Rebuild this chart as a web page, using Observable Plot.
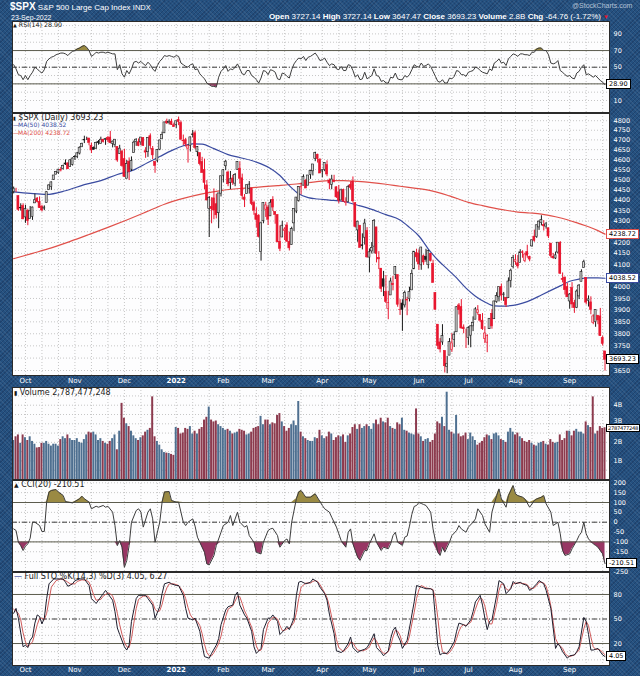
<!DOCTYPE html>
<html><head><meta charset="utf-8"><title>$SPX</title>
<script src="https://cdn.jsdelivr.net/npm/d3@7"></script>
<script src="https://cdn.jsdelivr.net/npm/@observablehq/plot@0.6"></script>
<style>
html,body{margin:0;padding:0;}
body{width:640px;height:676px;overflow:hidden;background-color:#24507f;
background-image:repeating-linear-gradient(45deg,rgba(255,255,255,0.07) 0 1px,transparent 1px 3px),repeating-linear-gradient(-45deg,rgba(0,0,30,0.18) 0 1px,transparent 1px 3px);}
#root{position:relative;width:640px;height:676px;overflow:hidden;}
.abs{position:absolute;white-space:nowrap;line-height:1;}
.sm{font-family:"DejaVu Sans",Verdana,sans-serif;color:#1a1a1a;}
.hd{font-family:"Liberation Sans",Arial,sans-serif;color:#fff;}
.box{position:absolute;left:606px;height:8px;line-height:8px;font:6.5px "DejaVu Sans",sans-serif;background:#fff;color:#000;padding:0 2px;border:1px solid #000;white-space:nowrap;}
.panel{position:absolute;left:12px;}
.panel svg{display:block;overflow:visible;}
</style></head>
<body><div id="root"></div>
<script>
// ---------- DATA ----------
const months = [
 ["2021-09",[24,27,28,29,30]],
 ["2021-10",[1,4,5,6,7,8,11,12,13,14,15,18,19,20,21,22,25,26,27,28,29]],
 ["2021-11",[1,2,3,4,5,8,9,10,11,12,15,16,17,18,19,22,23,24,26,29,30]],
 ["2021-12",[1,2,3,6,7,8,9,10,13,14,15,16,17,20,21,22,23,27,28,29,30,31]],
 ["2022-01",[3,4,5,6,7,10,11,12,13,14,18,19,20,21,24,25,26,27,28,31]],
 ["2022-02",[1,2,3,4,7,8,9,10,11,14,15,16,17,18,22,23,24,25,28]],
 ["2022-03",[1,2,3,4,7,8,9,10,11,14,15,16,17,18,21,22,23,24,25,28,29,30,31]],
 ["2022-04",[1,4,5,6,7,8,11,12,13,14,18,19,20,21,22,25,26,27,28,29]],
 ["2022-05",[2,3,4,5,6,9,10,11,12,13,16,17,18,19,20,23,24,25,26,27,31]],
 ["2022-06",[1,2,3,6,7,8,9,10,13,14,15,16,17,21,22,23,24,27,28,29,30]],
 ["2022-07",[1,5,6,7,8,11,12,13,14,15,18,19,20,21,22,25,26,27,28,29]],
 ["2022-08",[1,2,3,4,5,8,9,10,11,12,15,16,17,18,19,22,23,24,25,26,29,30,31]],
 ["2022-09",[1,2,6,7,8,9,12,13,14,15,16,19,20,21,22,23]]
];
const monthLabels = ["Oct","Nov","Dec","2022","Feb","Mar","Apr","May","Jun","Jul","Aug","Sep"];

const open = [4439,4443,4419,4363,4371,
4317,4348,4310,4320,4384,4407,4391,4368,4359,4386,4448,4463,4498,4524,4532,4547,4553,4580,4580,4562,4573,
4611,4613,4630,4662,4699,4702,4707,4670,4659,4655,4689,4679,4701,4700,4709,4712,4679,4675,4664,4628,4640,
4602,4504,4589,4549,4632,4690,4688,4687,4710,4642,4637,4719,4653,4587,4594,4650,4703,4734,4795,4788,4795,4776,
4778,4804,4787,4693,4698,4655,4670,4728,4734,4637,4632,4588,4547,4471,4357,4367,4408,4380,4337,4431,
4519,4566,4535,4482,4505,4480,4548,4553,4506,4412,4429,4455,4456,4385,4333,4325,4156,4299,4354,
4364,4322,4401,4343,4328,4203,4223,4253,4279,4203,4188,4289,4345,4396,4462,4470,4494,4470,4523,4541,4603,4624,4599,
4540,4547,4572,4495,4474,4495,4462,4437,4398,4449,4385,4390,4473,4489,4385,4256,4278,4187,4222,4253,
4131,4159,4181,4270,4129,4081,4034,3978,3904,3963,4013,4053,4052,3900,3928,3920,3943,3947,3985,4078,4151,
4149,4096,4137,4134,4097,4148,4102,3974,3838,3764,3764,3729,3665,3710,3734,3775,3806,3920,3913,3826,3785,
3782,3792,3831,3859,3888,3880,3855,3779,3763,3819,3884,3861,3935,3955,4000,3966,3953,3951,4027,4088,
4112,4105,4107,4155,4116,4156,4134,4182,4227,4225,4270,4290,4281,4274,4266,4195,4134,4127,4154,4198,4035,4041,4000,
3937,3995,3930,3910,3959,4023,4084,4040,3940,3933,3845,3849,3876,3873,3782,3727.14];
const high = [4463,4457,4419,4382,4382,
4375,4356,4369,4366,4429,4412,4415,4375,4372,4440,4475,4488,4520,4540,4551,4560,4572,4598,4584,4598,4608,
4620,4636,4664,4683,4719,4714,4708,4684,4664,4688,4697,4714,4701,4708,4718,4744,4694,4702,4664,4672,4647,
4652,4595,4608,4613,4694,4706,4705,4713,4711,4660,4712,4731,4666,4591,4651,4698,4740,4791,4808,4805,4808,4787,
4797,4819,4798,4725,4708,4673,4714,4749,4745,4666,4632,4611,4602,4495,4417,4411,4454,4428,4432,4517,
4550,4595,4542,4540,4521,4530,4588,4588,4527,4427,4473,4490,4456,4395,4363,4330,4295,4385,4389,
4375,4401,4416,4343,4328,4277,4299,4268,4292,4248,4271,4358,4412,4465,4481,4523,4501,4520,4546,4575,4637,4627,4604,
4548,4583,4593,4503,4521,4521,4464,4471,4453,4453,4411,4471,4489,4513,4386,4299,4278,4240,4308,4269,
4170,4200,4307,4270,4158,4082,4069,4050,3981,4039,4047,4090,4052,3945,3944,3982,3955,3999,4075,4158,4169,
4166,4177,4143,4169,4164,4150,4119,3974,3838,3780,3838,3729,3707,3780,3801,3808,3914,3928,3945,3837,3819,
3829,3832,3871,3910,3919,3880,3885,3829,3796,3864,3902,3938,3975,3999,4013,3976,3953,4040,4079,4141,
4144,4140,4167,4162,4151,4187,4137,4211,4257,4280,4301,4325,4302,4293,4266,4195,4150,4156,4200,4204,4062,4044,4016,
3971,4019,3942,3987,4011,4076,4119,4040,3961,3957,3880,3900,3876,3907,3790,3727.14];
const low = [4430,4437,4346,4347,4306,
4289,4278,4310,4303,4384,4386,4360,4343,4349,4386,4448,4447,4496,4524,4526,4538,4547,4570,4551,4562,4567,
4595,4604,4623,4662,4681,4697,4670,4630,4648,4651,4673,4679,4684,4672,4686,4680,4659,4660,4586,4626,4561,
4510,4504,4495,4540,4632,4667,4665,4670,4667,4606,4611,4651,4600,4531,4583,4645,4703,4734,4780,4778,4775,4766,
4759,4774,4699,4671,4663,4582,4638,4711,4650,4614,4568,4530,4450,4396,4223,4287,4306,4310,4264,4415,
4484,4544,4465,4451,4471,4465,4548,4477,4401,4364,4429,4429,4373,4327,4267,4221,4115,4287,4317,
4279,4322,4345,4285,4199,4158,4223,4209,4200,4161,4187,4251,4335,4390,4425,4469,4456,4469,4501,4518,4589,4582,4530,
4508,4539,4514,4450,4450,4484,4408,4382,4397,4392,4371,4390,4448,4385,4268,4201,4175,4166,4188,4128,
4063,4147,4148,4107,4077,3976,3958,3928,3859,3963,3983,4033,3912,3877,3810,3909,3876,3935,3985,4078,4110,
4074,4074,4096,4110,4080,4111,4017,3901,3735,3721,3752,3640,3637,3710,3723,3743,3806,3879,3820,3800,3739,
3752,3742,3809,3859,3878,3847,3814,3759,3722,3818,3819,3861,3929,3935,3939,3937,3911,3951,3996,4080,
4096,4080,4107,4128,4108,4128,4112,4178,4201,4219,4256,4277,4253,4262,4218,4129,4123,4122,4147,4057,4018,3965,3954,
3904,3907,3886,3906,3945,4023,4084,3922,3913,3880,3838,3827,3838,3789,3749,3647.47];
const close = [4455,4443,4353,4360,4308,
4357,4300,4346,4364,4399,4391,4361,4350,4364,4438,4471,4486,4520,4537,4549,4545,4567,4575,4551,4596,4605,
4613,4631,4660,4680,4697,4702,4685,4646,4649,4683,4683,4701,4689,4705,4698,4683,4691,4701,4595,4655,4567,
4513,4577,4538,4592,4686,4701,4668,4712,4669,4635,4710,4669,4621,4568,4649,4697,4726,4791,4786,4793,4778,4766,
4797,4794,4701,4696,4677,4670,4713,4726,4659,4663,4577,4533,4483,4398,4410,4357,4350,4327,4432,4516,
4546,4589,4477,4501,4484,4522,4587,4504,4419,4401,4472,4475,4381,4349,4305,4226,4289,4385,4374,
4306,4387,4364,4329,4201,4171,4278,4260,4204,4173,4262,4358,4412,4463,4461,4512,4456,4520,4543,4575,4632,4602,4530,
4546,4583,4525,4481,4500,4488,4413,4397,4447,4392,4391,4463,4459,4394,4272,4297,4175,4183,4288,4132,
4155,4175,4300,4147,4123,3991,4001,3935,3930,4024,4008,4088,3923,3901,3901,3974,3941,3979,4058,4158,4132,
4101,4177,4109,4121,4161,4116,4018,3901,3750,3735,3790,3667,3675,3765,3760,3796,3912,3900,3822,3819,3785,
3825,3831,3845,3903,3899,3855,3819,3801,3790,3863,3831,3937,3960,3999,3962,3967,3921,4024,4072,4130,
4119,4091,4155,4152,4145,4140,4122,4210,4208,4280,4297,4305,4275,4284,4228,4138,4128,4141,4199,4058,4031,3986,3955,
3967,3924,3908,3980,4006,4067,4110,3932,3946,3901,3873,3900,3856,3790,3758,3693.23];
// volume, billions of shares
const volumeB = [2.1,2.3,2.4,1.95,2.4,
2.25,2.1,2.3,2.05,1.9,1.7,1.72,1.95,1.95,2.05,1.9,1.8,1.9,1.9,1.8,2.15,2.3,2.2,2.4,2.2,2.1,
2.1,2.2,2.0,1.95,2.15,2.4,2.55,2.5,2.55,2.4,2.1,2.2,2.05,1.95,1.9,2.05,2.2,2.4,1.6,2.6,4.1,
3.3,3.0,2.85,2.6,2.35,2.2,2.1,2.25,2.35,2.55,2.65,2.75,4.45,2.3,2.05,1.85,1.6,1.45,1.42,1.4,1.35,1.3,
2.8,2.75,2.45,2.5,2.75,2.7,2.85,2.45,2.6,2.45,2.7,2.8,3.2,3.35,3.9,3.2,3.1,3.15,2.95,2.85,
2.75,2.65,2.7,2.6,2.45,2.5,2.55,2.7,2.65,2.6,2.4,2.45,2.55,2.75,2.8,2.85,3.4,2.95,3.2,
3.2,2.95,3.05,3.0,3.45,3.55,3.1,2.85,2.6,2.75,2.95,3.15,2.9,4.2,2.55,2.3,2.2,2.1,2.05,2.05,2.25,2.2,2.65,
2.35,2.2,2.3,2.55,2.45,2.1,2.25,2.35,2.3,2.4,2.0,2.35,2.45,2.8,2.95,2.7,2.95,2.75,2.85,2.95,
2.85,2.7,3.0,3.2,2.95,3.3,3.1,3.05,3.3,2.85,2.75,2.7,3.05,2.95,3.3,2.65,2.6,2.5,2.45,2.4,3.8,
2.45,2.3,2.05,2.15,2.2,2.0,2.1,2.45,3.1,3.0,3.35,2.85,4.7,2.65,2.55,2.45,3.45,2.45,2.3,2.35,2.5,
2.15,2.5,2.3,2.1,1.85,1.95,2.05,2.25,2.4,2.35,2.15,2.45,2.5,2.35,2.15,2.1,2.0,2.55,2.75,2.55,
2.4,2.5,2.3,2.2,2.05,2.0,2.1,1.95,1.85,1.8,1.95,2.0,2.05,1.9,1.85,2.15,2.0,1.95,2.0,2.4,2.1,2.2,2.6,
2.6,2.35,2.6,2.7,2.55,2.55,2.45,3.1,2.9,2.8,4.45,2.45,2.6,2.85,2.75,2.787477248];

const ma50Day = [0,7,14,22,30,37,44,51,57,62,67,72,76,80,85,91,96,101,105,109,113,117,121,125,129,134,140,146,152,158,164,168,172,176,180,184,188,192,196,200,204,208,212,216,220,224,228,232,236,240,244,248,251];
const ma50Value = [4440,4432,4427,4445,4475,4495,4525,4548,4585,4615,4645,4670,4680,4678,4655,4625,4610,4595,4578,4555,4520,4470,4430,4412,4405,4400,4393,4375,4355,4330,4305,4270,4230,4170,4120,4080,4040,3995,3960,3935,3918,3917,3920,3930,3945,3965,3985,4005,4025,4035,4040,4040,4038.52];
const ma200Day = [0,8,16,24,32,40,48,56,64,72,80,88,96,104,112,120,128,134,140,146,152,158,164,170,177,185,193,199,204,209,214,219,224,230,235,240,244,248,251];
const ma200Value = [4126,4150,4175,4205,4237,4270,4305,4342,4380,4408,4430,4446,4456,4463,4470,4478,4489,4495,4495,4491,4485,4477,4467,4458,4446,4420,4389,4373,4361,4351,4342,4338,4333,4320,4306,4288,4273,4255,4238.72];

const rsi = [53,48,41,40,35,40,35,40,44,50,48,45,43,47,57,60,62,63,65,66,67,67,66,64,67,69,70,72,73,75,76,74,70,63,65,68,67,68,68,67,68,67,66,66,
47,53,42,38,46,42,48,56,57,55,57,54,52,56,53,48,45,52,57,60,64,63,64,63,62,64,63,55,53,51,50,53,54,47,48,42,39,36,31,29,27,27,26,38,45,48,52,45,48,47,50,54,48,42,41,46,46,40,38,35,31,37,46,45,41,47,46,44,
36,35,43,42,39,37,47,54,58,61,60,63,58,62,63,65,67,63,58,
59,61,56,52,54,53,48,47,51,46,46,53,52,46,38,41,35,36,44,36,
38,40,48,40,39,33,34,31,31,38,37,43,36,35,35,40,38,41,47,53,51,
50,55,51,52,54,51,45,39,33,32,35,31,31,37,36,39,46,45,41,41,39,
44,45,46,50,49,46,44,43,42,48,46,55,57,60,55,56,52,60,63,66,
65,63,66,66,65,65,64,68,68,72,73,73,70,70,65,55,54,55,58,46,44,41,39,
40,37,36,43,45,50,53,41,42,40,38,40,37,34,32,28.9];

const cciDay = [0,1,2,3,4,5,6,7,8,9,11,12,13,14,15,16,18,19,21,22,23,25,26,28,29,30,32,33,35,36,38,39,40,42,43,44,45,46,47,48,49,50,52,53,54,55,57,58,59,60,62,63,64,66,67,69,70,72,73,74,76,77,78,79,81,82,83,85,86,88,89,91,92,93,95,96,98,99,100,102,103,105,106,108,109,110,112,113,115,116,117,118,120,121,122,124,126,128,130,131,132,134,135,137,138,139,141,142,143,144,146,147,149,150,151,153,154,156,157,159,160,161,162,163,165,166,167,168,169,170,171,172,173,174,175,177,178,180,181,182,183,185,186,188,189,190,192,193,195,196,197,199,200,202,203,205,206,207,209,210,212,213,214,216,217,219,221,222,224,225,226,228,229,231,232,233,234,236,237,239,240,241,242,243,244,246,247,248,250,251];
const cciValue = [-34,-42,-102,-119,-144,-122,-110,-81,0,0,-17,-47,-47,102,153,161,166,153,136,105,102,98,105,119,132,119,102,68,81,76,85,76,81,51,-17,-119,-93,-127,-229,-195,-119,0,59,68,51,-25,51,68,17,-102,0,102,153,156,110,102,102,0,-17,0,17,-20,-76,-102,-153,-212,-217,-170,-119,-51,-17,0,34,-17,51,0,-25,-17,-68,-102,-153,-161,-102,-42,-34,-31,-68,-127,-93,-85,-110,0,119,153,161,127,127,144,105,85,68,51,25,-25,-59,-93,-127,-51,-34,-110,-178,-194,-144,-144,-110,-59,-102,-144,-127,-135,-110,-68,-51,-102,-118,-76,-70,-20,40,80,85,100,95,90,85,51,-34,-152,-169,-127,-152,-101,-68,-42,-17,-34,-51,-25,0,17,68,34,-8,-51,51,135,169,118,76,135,186,144,135,127,118,76,110,118,127,135,93,51,-17,0,-59,-144,-169,-161,-135,-93,-68,-51,0,-59,-85,-110,-118,-127,-161,-210.51];

const kDay = [0,1,2,3,4,5,6,7,8,9,10,11,12,13,14,15,17,18,21,22,23,25,26,28,30,32,33,35,36,38,39,40,42,43,44,45,47,48,49,50,52,53,55,56,57,59,60,62,63,64,66,67,69,70,72,73,74,76,77,79,80,81,83,84,86,87,88,90,91,93,94,95,96,98,99,101,102,103,105,106,108,109,110,112,113,115,116,117,119,120,121,122,124,126,127,129,130,132,133,134,136,137,139,140,142,143,144,146,147,149,150,151,153,154,156,157,159,160,161,162,163,164,165,167,168,170,171,173,174,175,177,178,179,180,181,182,184,185,187,188,189,191,192,194,195,196,198,199,200,201,202,203,205,206,208,209,211,212,213,215,216,218,219,220,222,223,225,226,228,229,230,231,232,233,235,236,238,239,240,242,243,244,245,246,248,249,250,251];
const kValue = [57,63,51,33,16,18,15,24,28,45,55,53,44,51,75,93,99,99,99,95,90,93,97,99,99,91,75,69,73,81,85,81,73,59,39,31,16,12,18,47,75,79,79,79,75,67,51,65,81,93,95,93,91,91,79,63,51,49,51,35,18,4,2,8,18,26,43,61,65,67,79,83,67,55,51,35,16,8,14,37,51,51,55,47,31,37,41,37,51,79,95,96,93,95,99,95,89,81,73,56,32,11,9,11,20,28,15,9,11,13,15,20,32,15,9,5,11,26,36,40,30,24,14,24,39,71,91,89,88,87,87,85,51,18,6,8,8,12,22,35,45,43,41,49,59,71,79,67,51,37,47,49,79,97,93,81,87,96,93,95,93,91,85,87,93,97,93,85,63,39,14,20,16,10,2,5,6,10,16,52,47,31,12,12,14,10,6,4.05];

const dDay = [0,2,3,4,5,6,7,8,9,10,11,12,13,14,15,16,18,20,22,23,24,26,27,29,31,32,33,34,35,37,38,40,41,42,43,44,45,46,47,48,49,50,51,52,53,55,57,58,59,60,61,62,63,64,65,66,68,70,71,72,73,74,75,76,78,79,80,81,82,83,84,85,86,87,88,89,90,91,93,94,95,96,97,98,99,100,101,102,103,104,105,106,107,108,110,111,112,113,114,115,116,117,118,119,120,121,122,124,126,127,128,129,130,131,132,133,134,135,136,137,138,140,141,142,143,144,145,146,148,150,151,152,153,154,155,156,157,158,159,160,161,162,163,164,165,166,167,168,169,170,171,172,173,175,177,178,179,180,181,182,184,185,186,187,188,189,190,191,192,193,194,195,196,197,198,199,200,201,202,203,204,205,206,207,208,209,210,211,212,213,215,217,218,219,220,221,222,223,224,225,226,227,228,229,230,231,232,233,234,235,236,237,238,239,240,241,242,243,244,245,246,247,248,249,250,251];
const dValue = [62,57,49,33,22,16,19,22,32,43,51,51,49,57,73,89,97,99,97,95,93,93,96,98,97,95,88,79,73,74,78,82,81,78,70,57,43,31,22,16,15,26,45,63,74,78,78,74,70,62,59,60,68,80,88,93,93,91,87,83,75,64,55,51,47,42,32,19,9,5,5,9,14,20,29,42,53,62,66,72,78,77,69,60,54,47,40,29,17,11,12,20,33,45,52,52,50,42,36,36,38,39,42,46,58,75,89,94,94,96,97,96,92,87,82,76,66,52,40,25,15,10,13,16,22,21,16,12,11,13,16,22,27,23,17,11,8,8,10,17,28,36,35,30,20,18,20,29,44,58,75,86,91,88,87,86,75,52,26,10,7,9,13,18,26,35,41,43,42,44,46,53,62,70,76,74,66,52,44,44,55,68,85,93,92,87,85,88,93,94,94,93,92,88,87,88,91,95,95,94,90,80,66,46,26,20,17,14,8,5,4,5,6,9,12,25,38,47,42,28,16,13,13,12,9,6.27];

// tick labels shown on the right-hand axes (values hidden behind the value tags are omitted)
const priceTicks = [3650,3700,3750,3800,3850,3900,3950,4000,4050,4100,4150,4200,4250,4300,4350,4400,4450,4500,4550,4600,4650,4700,4750,4800];
const priceTickLabels = [3650,3750,3800,3850,3900,3950,4000,4100,4150,4200,4300,4350,4400,4450,4500,4550,4600,4650,4700,4750,4800];
const rsiTicks = [10,50,70,90];
const rsiGridVals = [10,20,30,40,50,60,70,80,90,100];
const volTicks = [1e9,2e9,4e9];
const volTickLabels = ["1B","2B","4B"];
const volUpperTick = [3e9];
const volUpperTickLabel = ["3B"];
const volGridVals = [0.5e9,1e9,1.5e9,2e9,2.5e9,3e9,3.5e9,4e9,4.5e9];
const cciGridVals = [-250,-200,-150,-100,-50,0,50,100,150,200];
const cciTicks = [-250,-150,-100,-50,0,50,100,150,200];
const stoTicks = [20,50,80];
const stoGridVals = [0,10,20,30,40,50,60,70,80,90,100];

// ---------- DERIVED TABLES ----------
const dates = months.flatMap(([m, days]) => days.map(d => m + "-" + String(d).padStart(2, "0")));
const N = dates.length;
const candles = dates.map((date, i) => ({
  i, date, open: open[i], high: high[i], low: low[i], close: close[i],
  up: i === 0 ? close[i] >= open[i] : close[i] >= close[i - 1],
  hollow: close[i] > open[i]
}));
const volData = dates.map((date, i) => ({i, v: volumeB[i] * 1e9, up: candles[i].up}));
const ma50 = ma50Day.map((i, k) => ({i, v: ma50Value[k]}));
const ma200 = ma200Day.map((i, k) => ({i, v: ma200Value[k]}));
const rsiData = rsi.map((v, i) => ({i, v}));
const cciData = cciDay.map((i, k) => ({i, v: cciValue[k]}));
const kData = kDay.map((i, k) => ({i, v: kValue[k]}));
const dData = dDay.map((i, k) => ({i, v: dValue[k]}));

const monthStarts = months.slice(1).map(([m]) => dates.findIndex(d => d.startsWith(m)));
const monthTicks = monthStarts.map((i, k) => ({i, label: monthLabels[k], bold: monthLabels[k] === "2022"}));
const gridIdx = [];
monthStarts.forEach((m, k) => {
  const next = k + 1 < monthStarts.length ? monthStarts[k + 1] : N + 5;
  for (let j = m; j < next - 3; j += 7) gridIdx.push(j);
});

// ---------- STYLE ----------
const W = 628, MR = 31, XD = [-0.5, 252.9];
const PANEL_BG = "#fdfdfe", GRID = "#c6c6c6", REF = "#5c5c4e", LINE = "#3c3c3c";
const OLIVE = "#9a8a43", MAROON = "#983664";
const UPC = "#1a1a1a", DNC = "#e8162f", VOLUP = "#4e6f90", VOLDN = "#8c3a4e";
const baseStyle = {background: "transparent", overflow: "visible", fontFamily: "DejaVu Sans, Verdana, sans-serif"};

function panel({height, mb = 0, y, marks}) {
  return Plot.plot({width: W, height, marginLeft: 0, marginRight: MR, marginTop: 0, marginBottom: mb,
    style: baseStyle, x: {domain: XD, axis: null}, y: {...y, axis: null}, marks});
}
const vGrid = () => Plot.ruleX(gridIdx, {stroke: GRID, strokeDasharray: "1,2"});
const hGrid = vals => Plot.ruleY(vals, {stroke: GRID, strokeDasharray: "1,2"});
const refLines = vals => Plot.ruleY(vals, {stroke: REF, strokeWidth: 1});
const midLine = v => Plot.ruleY([v], {stroke: "#3a3a3a", strokeDasharray: "5,2,1,2"});
const rightLabels = (vals, fmt, dy = 0) => Plot.text(vals, {y: d => d, text: fmt || (d => String(d)), frameAnchor: "right", dx: 4, dy, textAnchor: "start", fill: "#fff", fontSize: 6.5});
const monthMarks = dy => [
  Plot.text(monthTicks.filter(d => !d.bold), {x: "i", text: "label", frameAnchor: "bottom", dy, fill: "#fff", fontSize: 7}),
  Plot.text(monthTicks.filter(d => d.bold), {x: "i", text: "label", frameAnchor: "bottom", dy, fill: "#fff", fontSize: 7, fontWeight: "bold"})
];

// ---------- PANELS ----------
const root = document.getElementById("root");
function mount(plot, top) {
  const d = document.createElement("div");
  d.className = "panel"; d.style.top = top + "px";
  d.appendChild(plot); root.appendChild(d);
}

const rsiPlot = panel({height: 91, y: {domain: [-4.4, 104.9]}, marks: [
  Plot.frame({fill: PANEL_BG}),
  hGrid(rsiGridVals), vGrid(),
  Plot.areaY(rsiData, {x: "i", y1: 70, y2: d => Math.max(d.v, 70), fill: OLIVE}),
  Plot.areaY(rsiData, {x: "i", y1: 30, y2: d => Math.min(d.v, 30), fill: MAROON}),
  refLines([30, 70]), midLine(50),
  Plot.line(rsiData, {x: "i", y: "v", stroke: LINE, strokeWidth: 1, clip: true}),
  Plot.frame({stroke: "#2a2a2a"}),
  rightLabels(rsiTicks)
]});
mount(rsiPlot, 21);

const mainPlot = panel({height: 274, mb: 12, y: {type: "log", domain: [3630, 4838]}, marks: [
  Plot.frame({fill: PANEL_BG}),
  hGrid(priceTicks), vGrid(),
  Plot.line(ma200, {x: "i", y: "v", stroke: "#e0504a", strokeWidth: 1.2, curve: "monotone-x", clip: true}),
  Plot.line(ma50, {x: "i", y: "v", stroke: "#3a4ba0", strokeWidth: 1.2, curve: "monotone-x", clip: true}),
  Plot.ruleX(candles, {x: "i", y1: "low", y2: "high", stroke: d => d.up ? UPC : DNC, strokeWidth: 1, clip: true}),
  Plot.rect(candles, {x1: d => d.i - 0.42, x2: d => d.i + 0.42, y1: "open", y2: "close",
    fill: d => d.hollow ? (d.up ? "#d4d4d4" : "#f5c2c9") : (d.up ? UPC : DNC),
    stroke: d => d.up ? UPC : DNC, strokeWidth: 0.6, clip: true}),
  Plot.frame({stroke: "#2a2a2a"}),
  rightLabels(priceTickLabels),
  ...monthMarks(7)
]});
mount(mainPlot, 113);

const volPlot = panel({height: 92, y: {domain: [0, 4.954e9]}, marks: [
  Plot.frame({fill: PANEL_BG}),
  hGrid(volGridVals), vGrid(),
  Plot.rect(volData, {x1: d => d.i - 0.42, x2: d => d.i + 0.42, y1: 0, y2: "v", fill: d => d.up ? VOLUP : VOLDN, clip: true}),
  Plot.frame({stroke: "#2a2a2a"}),
  rightLabels(volTicks, d => volTickLabels[volTicks.indexOf(d)]),
  rightLabels(volUpperTick, d => volUpperTickLabel[0], -3)
]});
mount(volPlot, 387);

const cciPlot = panel({height: 91, y: {domain: [-250.3, 211.7]}, marks: [
  Plot.frame({fill: PANEL_BG}),
  hGrid(cciGridVals), vGrid(),
  Plot.areaY(cciData, {x: "i", y1: 100, y2: d => Math.max(d.v, 100), fill: OLIVE}),
  Plot.areaY(cciData, {x: "i", y1: -100, y2: d => Math.min(d.v, -100), fill: MAROON}),
  refLines([-100, 100]), midLine(0),
  Plot.line(cciData, {x: "i", y: "v", stroke: LINE, strokeWidth: 1, clip: true}),
  Plot.frame({stroke: "#2a2a2a"}),
  rightLabels(cciTicks)
]});
mount(cciPlot, 480);

const stoPlot = panel({height: 104, mb: 11, y: {domain: [-6.9, 106.9]}, marks: [
  Plot.frame({fill: PANEL_BG}),
  hGrid(stoGridVals), vGrid(),
  refLines([20, 80]), midLine(50),
  Plot.line(dData, {x: "i", y: "v", stroke: "#d05a5a", strokeWidth: 1, clip: true}),
  Plot.line(kData, {x: "i", y: "v", stroke: "#1e1e2e", strokeWidth: 1, clip: true}),
  Plot.frame({stroke: "#2a2a2a"}),
  rightLabels(stoTicks),
  ...monthMarks(6)
]});
mount(stoPlot, 572);

// ---------- TEXT OVERLAYS ----------
function txt(left, top, html, cls, css) {
  const d = document.createElement("div");
  d.className = "abs " + cls; d.innerHTML = html;
  d.style.left = left + "px"; d.style.top = top + "px";
  if (css) d.style.cssText += css;
  root.appendChild(d); return d;
}
function box(top, text, color, css) {
  const d = document.createElement("div");
  d.className = "box"; d.textContent = text;
  d.style.top = (top - 5) + "px"; d.style.borderColor = color;
  if (css) d.style.cssText += css;
  root.appendChild(d);
}

// header
txt(10, 1, '<b style="font-size:10px">$SPX</b> <span>S&amp;P 500 Large Cap Index</span> <span style="font-size:7.5px">INDX</span>', "hd", "font-size:8px;line-height:11px;height:11px;");
txt(11, 13.5, "23-Sep-2022", "hd", "font-size:7px;");
txt(0, 12.5, '<b>Open</b> 3727.14 <b>High</b> 3727.14 <b>Low</b> 3647.47 <b>Close</b> 3693.23 <b>Volume</b> 2.8B <b>Chg</b> -64.76 (-1.72%)', "hd", "font-size:8px;left:auto;right:39px;");
txt(603, 14, "&#9660;", "hd", "font-size:6px;color:#e8162f;");
txt(572, 2, "@StockCharts.com", "hd", "font-size:7px;color:#b4c2d6;");

// legends
txt(13, 22, '<span style="font-size:5px">&#9650;</span> RSI(14) 28.90', "sm", "font-size:6.3px;");
txt(13, 113.5, '<span style="font-size:5px">&#9646;</span> $SPX (Daily) 3693.23', "sm", "font-size:8px;");
txt(13, 122.3, '<span style="letter-spacing:-1px">&#8212;</span>MA(50) 4038.52', "sm", "font-size:6px;color:#3a4ba0;");
txt(13, 129.7, '<span style="letter-spacing:-1px">&#8212;</span>MA(200) 4238.72', "sm", "font-size:6px;color:#e0504a;");
txt(14, 388.7, '<span style="font-size:6px">&#9646;</span> Volume 2,787,477,248', "sm", "font-size:8px;");
txt(14, 481, '<span style="font-size:6px">&#9650;</span> CCI(20) -210.51', "sm", "font-size:8px;");
txt(14, 573.3, '<span style="color:#3a4ba0">&#8212;</span> Full STO %K(14,3) %D(3) 4.05, 6.27', "sm", "font-size:8px;");

// value tags positioned with the plots' own scales
box(21 + rsiPlot.scale("y").apply(28.90), "28.90", "#000");
const ys = mainPlot.scale("y");
box(113 + ys.apply(4238.72), "4238.72", "#e0504a");
box(113 + ys.apply(4038.52), "4038.52", "#3a4ba0");
box(113 + ys.apply(3693.23), "3693.23", "#000");
box(387 + volPlot.scale("y").apply(2787477248) + 2, "2787477248", "#000", "font-size:5.2px;letter-spacing:-0.3px;padding:0 1px;height:6px;line-height:6px;");
box(480 + cciPlot.scale("y").apply(-210.51), "-210.51", "#000");
box(572 + stoPlot.scale("y").apply(4.05), "4.05", "#000");
</script></body></html>
